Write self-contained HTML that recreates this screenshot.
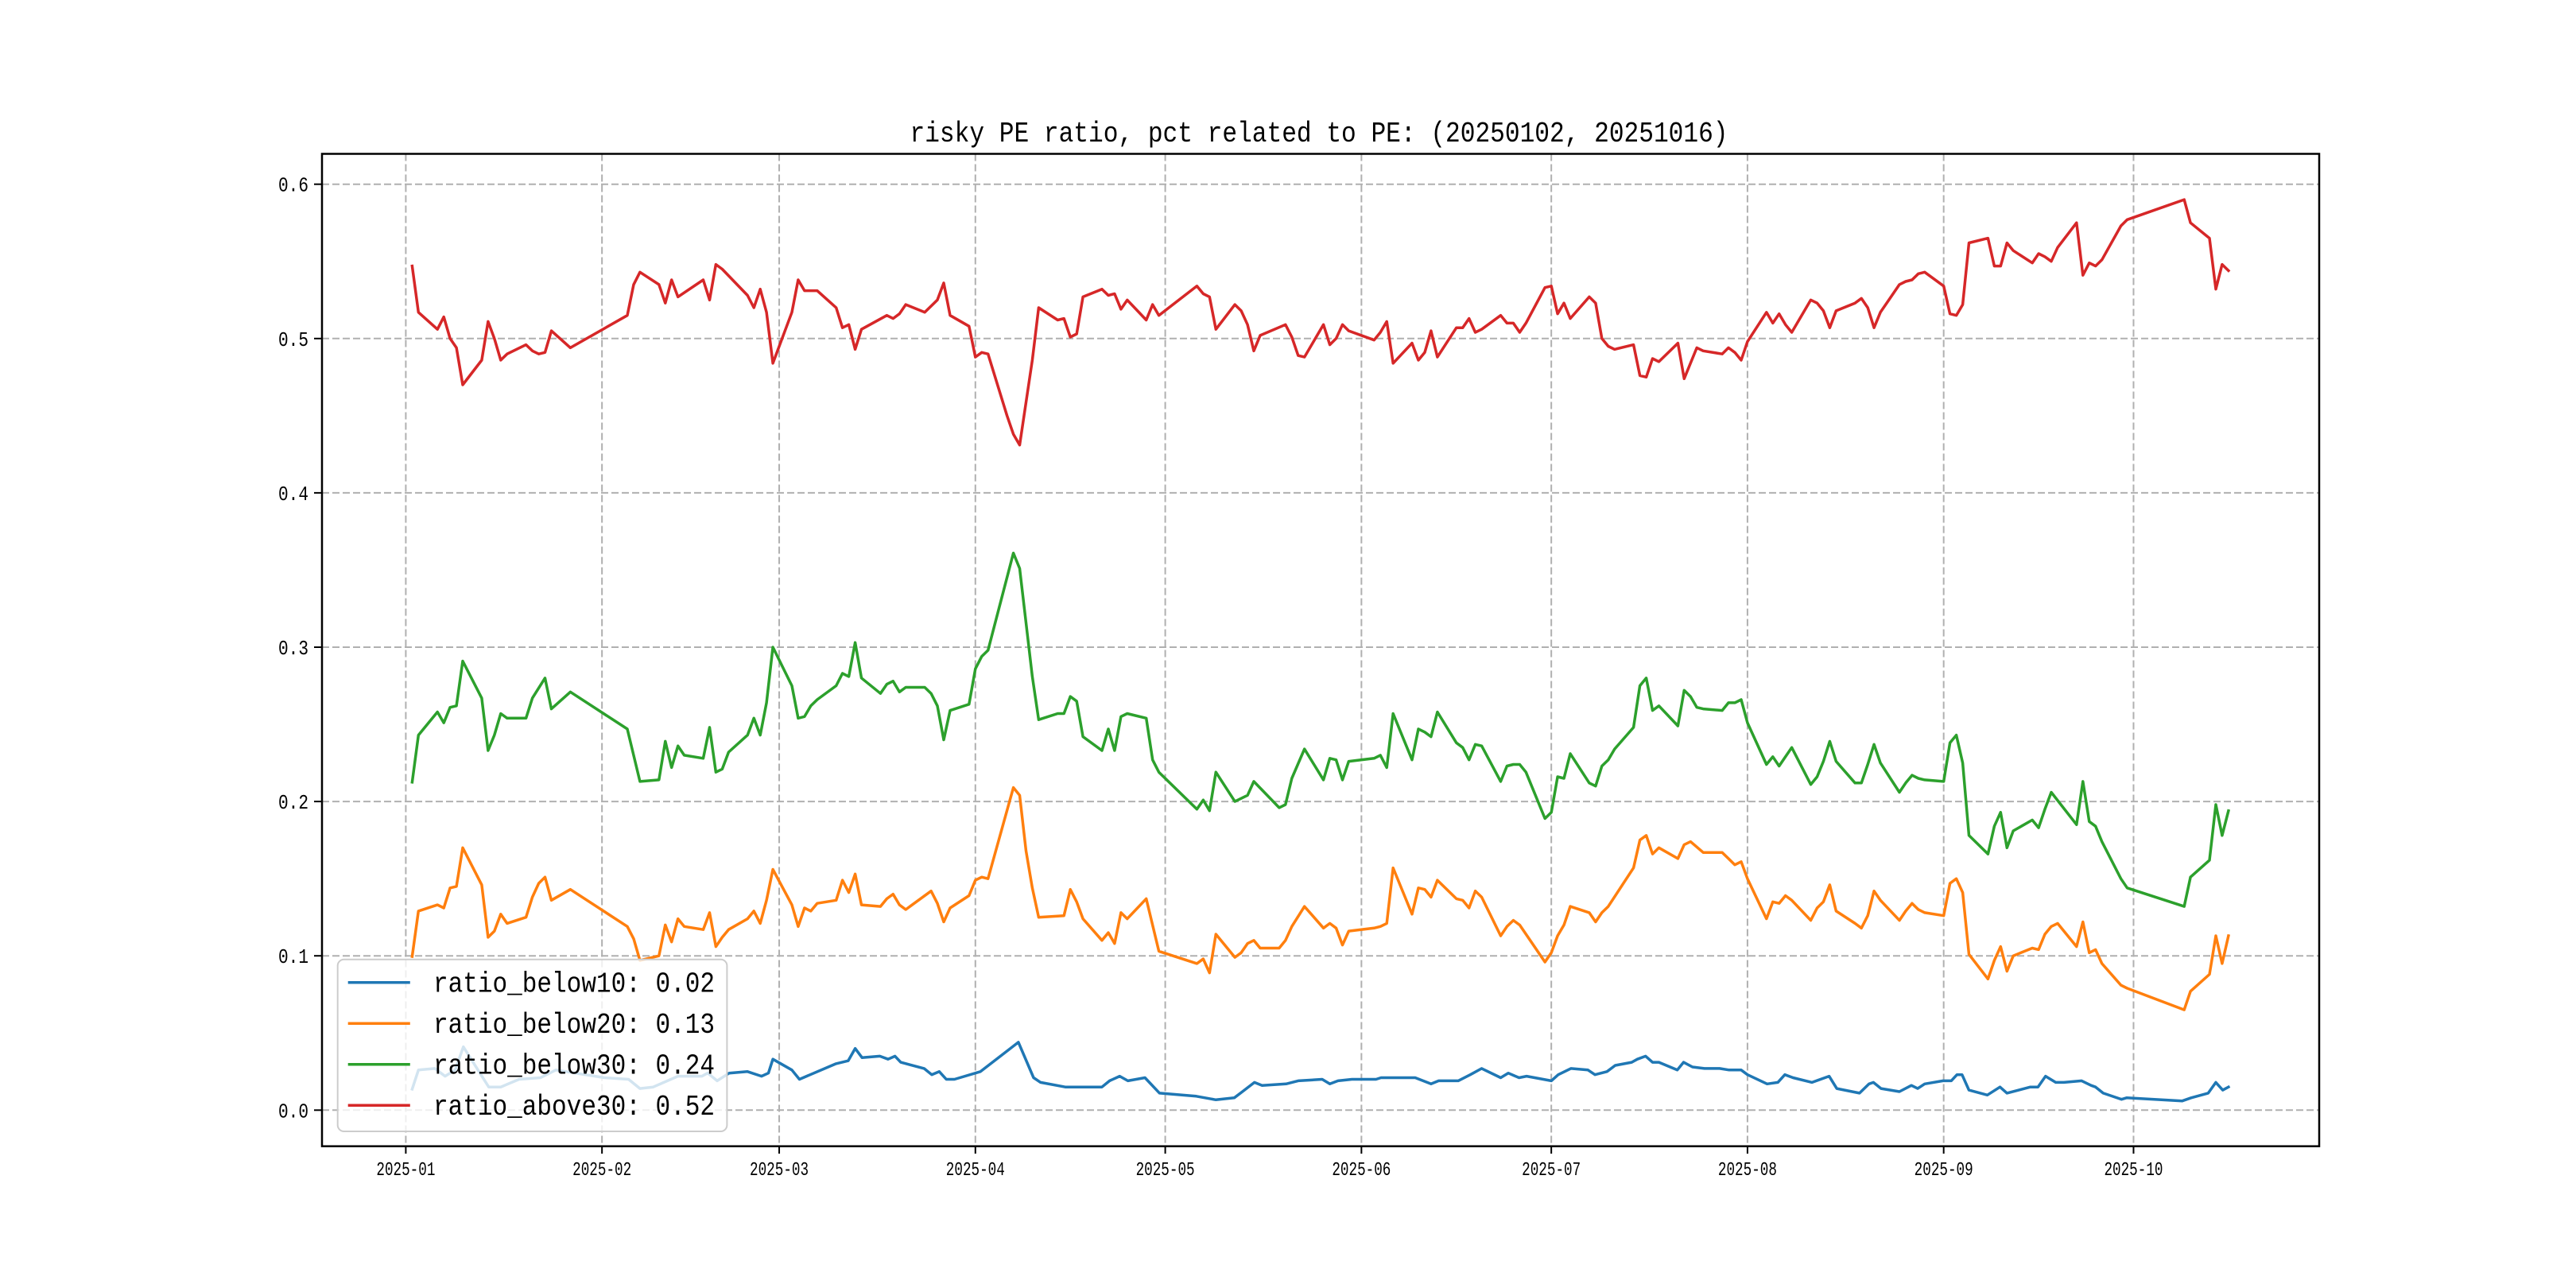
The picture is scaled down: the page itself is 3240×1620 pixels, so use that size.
<!DOCTYPE html>
<html><head><meta charset="utf-8"><style>
html,body{margin:0;padding:0;background:#fff;}
svg{display:block;}
text{font-family:"Liberation Mono","Noto Sans CJK SC",monospace;fill:#000;}
</style></head><body>
<svg id="chart" width="3240" height="1620" viewBox="0 0 3240 1620" xmlns="http://www.w3.org/2000/svg">
<rect width="3240" height="1620" fill="#fff"/>
<text x="1659" y="178" font-size="36" text-anchor="middle" textLength="1029" lengthAdjust="spacingAndGlyphs">risky PE ratio, pct related to PE: (20250102, 20251016)</text>
<g id="grid"></g>
<g id="series"></g>
<rect x="405" y="193.5" width="2512" height="1248.2" fill="none" stroke="#000" stroke-width="2.5"/>
<g id="ticks"></g>
<g id="legend"></g>
</svg>
<script>
const monthDays = [0,31,59,90,120,151,181,212,243,273];
const monthLabels = ["2025-01","2025-02","2025-03","2025-04","2025-05","2025-06","2025-07","2025-08","2025-09","2025-10"];
const yTicks = [0.0,0.1,0.2,0.3,0.4,0.5,0.6];
const yTickLabels = ["0.0","0.1","0.2","0.3","0.4","0.5","0.6"];
const seriesNames = ["ratio_below10: 0.02","ratio_below20: 0.13","ratio_below30: 0.24","ratio_above30: 0.52"];

const blueDays = [1,2,4.6,6.2,7.8,9.1,13.1,15,17.9,21.3,23.7,31.4,35.2,37,39.1,43,46.8,47.7,49.2,51.1,54,56.2,57.3,58,61,62.2,67.9,69.9,71,72.1,74.9,76.2,77.3,78.2,81.9,83.1,84.3,85.4,86.7,90.8,96.8,99.2,100.3,104.2,110,111.2,112.8,114.1,116.8,119.1,124.9,128,130.9,132.2,134.1,135.3,139.1,141,144.8,146,147.3,149.5,153.3,154.1,159.5,162,163.2,166.3,168.2,170,173,174.2,175.9,177.1,181,182.1,184.1,186.8,187.9,189.8,191.1,193.7,194.6,195.9,197,198,200.9,201.9,203.3,205.2,207.6,209.1,211,212,215.1,216.8,217.9,219.2,222.2,224.9,226.1,229.7,231.2,231.9,233.1,236,237.9,238.9,240,242.9,244.2,245.1,245.9,247,249.9,251.9,253,256.7,257.9,259.1,260.7,262,264.8,266.3,267,268.2,271.1,271.9,280.7,282.1,284.8,286,287.1,288];
const blueVals = [0.0136,0.026,0.027,0.022,0.026,0.041,0.015,0.015,0.020,0.021,0.026,0.021,0.020,0.014,0.015,0.022,0.022,0.024,0.019,0.024,0.025,0.022,0.024,0.033,0.026,0.020,0.030,0.032,0.040,0.034,0.035,0.033,0.035,0.031,0.027,0.023,0.025,0.020,0.020,0.025,0.044,0.021,0.018,0.015,0.015,0.019,0.022,0.019,0.021,0.011,0.009,0.0067,0.008,0.012,0.018,0.016,0.017,0.019,0.020,0.017,0.019,0.020,0.020,0.021,0.021,0.017,0.019,0.019,0.023,0.027,0.021,0.024,0.021,0.022,0.019,0.023,0.027,0.026,0.023,0.025,0.029,0.031,0.033,0.035,0.031,0.031,0.026,0.031,0.028,0.027,0.027,0.026,0.026,0.023,0.017,0.018,0.023,0.021,0.018,0.022,0.014,0.011,0.017,0.018,0.014,0.012,0.016,0.014,0.017,0.019,0.019,0.023,0.023,0.013,0.0098,0.015,0.011,0.015,0.015,0.022,0.018,0.018,0.019,0.016,0.015,0.011,0.007,0.008,0.006,0.008,0.011,0.018,0.013,0.015];

const orangeDays = [1,2,5,6,7,8,9,12,13,14,15,16,19,20,21,22,23,26,35,36,37,40,41,42,43,44,47,48,49,50,51,54,55,56,57,58,61,62,63,64,65,68,69,70,71,72,75,76,77,78,79,83,84,85,86,89,90,91,92,96,97,98,99,100,104,105,106,107,110,111,112,113,114,117,119,125,126,127,128,131,132,133,134,135,138,139,140,142,145,146,147,148,149,153,154,155,156,159,160,161,162,163,166,167,168,169,170,173,174,175,176,180,181,182,183,184,187,188,189,190,194,195,196,197,198,201,202,203,205,208,209,210,211,212,215,216,217,218,219,222,223,224,225,226,229,230,231,232,233,236,237,238,239,240,243,244,245,246,247,250,251,252,253,254,257,258,259,260,261,264,265,266,267,268,271,272,281,282,285,286,287,288];
const orangeVals = [0.0996,0.129,0.133,0.131,0.144,0.145,0.170,0.146,0.112,0.116,0.127,0.121,0.125,0.138,0.147,0.151,0.136,0.143,0.119,0.111,0.097,0.100,0.120,0.109,0.124,0.119,0.117,0.128,0.106,0.112,0.117,0.124,0.129,0.121,0.136,0.156,0.133,0.119,0.131,0.129,0.134,0.136,0.149,0.141,0.153,0.133,0.132,0.137,0.140,0.133,0.130,0.142,0.134,0.122,0.131,0.139,0.149,0.151,0.150,0.209,0.204,0.168,0.144,0.125,0.126,0.143,0.135,0.124,0.110,0.115,0.108,0.128,0.124,0.137,0.103,0.095,0.098,0.089,0.114,0.099,0.102,0.108,0.110,0.105,0.105,0.110,0.119,0.132,0.118,0.121,0.118,0.107,0.116,0.118,0.119,0.121,0.157,0.127,0.144,0.143,0.138,0.149,0.137,0.136,0.131,0.142,0.138,0.113,0.119,0.123,0.120,0.096,0.102,0.113,0.120,0.132,0.128,0.122,0.128,0.132,0.157,0.175,0.178,0.166,0.170,0.163,0.172,0.174,0.167,0.167,0.163,0.159,0.161,0.150,0.124,0.135,0.134,0.139,0.136,0.123,0.131,0.135,0.146,0.129,0.121,0.118,0.126,0.142,0.136,0.123,0.129,0.134,0.130,0.128,0.126,0.147,0.150,0.141,0.101,0.085,0.097,0.106,0.090,0.100,0.105,0.104,0.114,0.119,0.121,0.106,0.122,0.102,0.104,0.095,0.081,0.079,0.065,0.077,0.088,0.113,0.095,0.113];

const greenDays = [1,2,5,6,7,8,9,12,13,14,15,16,19,20,22,23,26,35,37,40,41,42,43,44,47,48,49,50,51,54,55,56,57,58,61,62,63,64,65,68,69,70,71,72,75,76,77,78,79,82,83,84,85,86,89,90,91,92,96,97,99,100,103,104,105,106,107,110,111,112,113,114,117,118,119,125,126,127,128,131,133,134,138,139,140,142,145,146,147,148,149,153,154,155,156,159,160,161,162,163,166,167,168,169,170,173,174,175,176,177,180,181,182,183,184,187,188,189,190,191,194,195,196,197,198,201,202,203,204,205,208,209,210,211,212,215,216,217,218,219,222,223,224,225,226,229,230,231,232,233,236,237,238,239,240,243,244,245,246,247,250,251,252,253,254,257,258,259,260,264,265,266,267,268,271,272,281,282,285,286,287,288];
const greenVals = [0.2125,0.243,0.258,0.251,0.261,0.262,0.291,0.267,0.233,0.243,0.257,0.254,0.254,0.267,0.280,0.260,0.271,0.247,0.213,0.214,0.239,0.222,0.236,0.230,0.228,0.248,0.219,0.221,0.232,0.243,0.254,0.243,0.264,0.300,0.275,0.254,0.255,0.262,0.266,0.275,0.283,0.281,0.303,0.280,0.270,0.276,0.278,0.271,0.274,0.274,0.270,0.262,0.240,0.259,0.263,0.286,0.294,0.298,0.361,0.351,0.281,0.253,0.257,0.257,0.268,0.265,0.242,0.233,0.247,0.233,0.255,0.257,0.254,0.227,0.219,0.195,0.201,0.194,0.219,0.200,0.204,0.213,0.196,0.198,0.215,0.234,0.214,0.228,0.227,0.214,0.226,0.228,0.230,0.222,0.257,0.227,0.247,0.245,0.242,0.258,0.238,0.235,0.227,0.237,0.236,0.213,0.223,0.224,0.224,0.219,0.189,0.193,0.216,0.215,0.231,0.212,0.210,0.223,0.227,0.234,0.248,0.275,0.280,0.259,0.262,0.249,0.272,0.268,0.261,0.260,0.259,0.264,0.264,0.266,0.251,0.224,0.229,0.223,0.229,0.235,0.211,0.216,0.226,0.239,0.226,0.212,0.212,0.224,0.237,0.225,0.206,0.212,0.217,0.215,0.214,0.213,0.238,0.243,0.225,0.178,0.166,0.184,0.193,0.170,0.181,0.188,0.183,0.195,0.206,0.185,0.213,0.187,0.184,0.174,0.150,0.144,0.132,0.151,0.162,0.198,0.178,0.194];

const redDays = [1,2,5,6,7,8,9,12,13,14,15,16,19,20,21,22,23,26,35,36,37,40,41,42,43,47,48,49,50,54,55,56,57,58,61,62,63,65,68,69,70,71,72,76,77,78,79,82,84,85,86,89,90,91,92,95,96,97,99,100,103,104,105,106,107,110,111,112,113,114,117,118,119,125,126,127,128,131,132,133,134,135,139,140,141,142,145,146,147,148,149,153,154,155,156,159,160,161,162,163,166,167,168,169,170,173,174,175,176,177,180,181,182,183,184,187,188,189,190,191,194,195,196,197,198,201,202,204,205,208,209,210,211,212,215,216,217,218,219,222,223,224,225,226,229,230,231,232,233,236,237,238,239,240,243,244,245,246,247,250,251,252,253,254,257,258,259,260,261,264,265,266,267,268,271,272,281,282,285,286,287,288];
const redVals = [0.547,0.517,0.506,0.514,0.500,0.494,0.470,0.486,0.511,0.500,0.486,0.490,0.496,0.492,0.490,0.491,0.505,0.494,0.515,0.535,0.543,0.535,0.523,0.538,0.527,0.538,0.525,0.548,0.545,0.528,0.520,0.532,0.517,0.484,0.517,0.538,0.531,0.531,0.520,0.507,0.509,0.493,0.506,0.515,0.513,0.516,0.522,0.517,0.525,0.536,0.515,0.508,0.488,0.491,0.490,0.450,0.438,0.431,0.486,0.520,0.512,0.513,0.501,0.503,0.527,0.532,0.528,0.529,0.519,0.525,0.512,0.522,0.515,0.534,0.529,0.527,0.506,0.522,0.518,0.509,0.492,0.502,0.509,0.501,0.489,0.488,0.509,0.496,0.500,0.509,0.505,0.499,0.504,0.511,0.484,0.497,0.486,0.491,0.505,0.488,0.507,0.507,0.513,0.504,0.506,0.515,0.510,0.510,0.504,0.510,0.533,0.534,0.516,0.523,0.513,0.527,0.523,0.500,0.495,0.493,0.496,0.476,0.475,0.487,0.485,0.497,0.474,0.494,0.492,0.490,0.494,0.491,0.486,0.498,0.517,0.510,0.516,0.509,0.504,0.525,0.523,0.518,0.507,0.518,0.523,0.526,0.520,0.507,0.517,0.535,0.537,0.538,0.542,0.543,0.534,0.516,0.515,0.522,0.562,0.565,0.547,0.547,0.562,0.557,0.549,0.555,0.553,0.550,0.559,0.575,0.541,0.549,0.547,0.551,0.573,0.577,0.590,0.575,0.565,0.532,0.548,0.544];

const X0 = 510.4, PX_PER_DAY = 7.96, Y0 = 1396.3, PX_PER_UNIT = 1941;
function xScale(d){ return X0 + d*PX_PER_DAY; }
function yScale(v){ return Y0 - v*PX_PER_UNIT; }
const NS = "http://www.w3.org/2000/svg";
function mk(tag, attrs){ const e=document.createElementNS(NS,tag); for(const k in attrs) e.setAttribute(k,attrs[k]); return e; }

const grid = document.getElementById('grid');
const ticks = document.getElementById('ticks');
monthDays.forEach((d,i)=>{
  const x = xScale(d);
  const gl = mk('line',{x1:x,x2:x,y1:193.5,y2:1441.7,stroke:'#b0b0b0','stroke-width':2,'stroke-dasharray':'9,4'});
  
  
  grid.appendChild(gl);
  const tk = mk('line',{x1:x,x2:x,y1:1441.7,y2:1451,stroke:'#000','stroke-width':2});
  
  
  ticks.appendChild(tk);
  const t = mk('text',{x:x,y:1478,'font-size':24,'text-anchor':'middle',textLength:74,lengthAdjust:'spacingAndGlyphs'});
  t.textContent = monthLabels[i];
  
  
  ticks.appendChild(t);
});
yTicks.forEach((v,i)=>{
  const y = yScale(v);
  const gl = mk('line',{x1:405,x2:2917,y1:y,y2:y,stroke:'#b0b0b0','stroke-width':2,'stroke-dasharray':'9,4'});
  
  
  grid.appendChild(gl);
  const tk = mk('line',{x1:395,x2:405,y1:y,y2:y,stroke:'#000','stroke-width':2});
  
  
  ticks.appendChild(tk);
  const t = mk('text',{x:388,y:y+9,'font-size':26,'text-anchor':'end',textLength:38,lengthAdjust:'spacingAndGlyphs'});
  t.textContent = yTickLabels[i];
  
  
  ticks.appendChild(t);
});

const seriesG = document.getElementById('series');
const colors = ['#1f77b4','#ff7f0e','#2ca02c','#d62728'];
const allDays = [blueDays, orangeDays, greenDays, redDays];
const allVals = [blueVals, orangeVals, greenVals, redVals];
const lineNames = ['line-ratio-below10','line-ratio-below20','line-ratio-below30','line-ratio-above30'];
allDays.forEach((days,s)=>{
  const vals = allVals[s];
  const pts = days.map((d,i)=>xScale(d).toFixed(1)+','+yScale(vals[i]).toFixed(1)).join(' ');
  const pl = mk('polyline',{points:pts,fill:'none',stroke:colors[s],'stroke-width':3.5,'stroke-linejoin':'round','stroke-linecap':'square'});
  
  
  seriesG.appendChild(pl);
});

const lg = document.getElementById('legend');
const box = mk('rect',{x:424.7,y:1206.7,width:489.7,height:216.3,rx:8,fill:'#fff','fill-opacity':0.8,stroke:'#cccccc','stroke-width':2});


lg.appendChild(box);
const entryY = [1235.7,1287.2,1338.7,1390.2];
seriesNames.forEach((n,i)=>{
  const ln = mk('line',{x1:437.7,x2:515.8,y1:entryY[i],y2:entryY[i],stroke:colors[i],'stroke-width':3.5});
  
  
  lg.appendChild(ln);
  const t = mk('text',{x:545,y:entryY[i]+12,'font-size':36,textLength:354,lengthAdjust:'spacingAndGlyphs'});
  t.textContent = n;
  
  
  lg.appendChild(t);
});
</script>
</body></html>
